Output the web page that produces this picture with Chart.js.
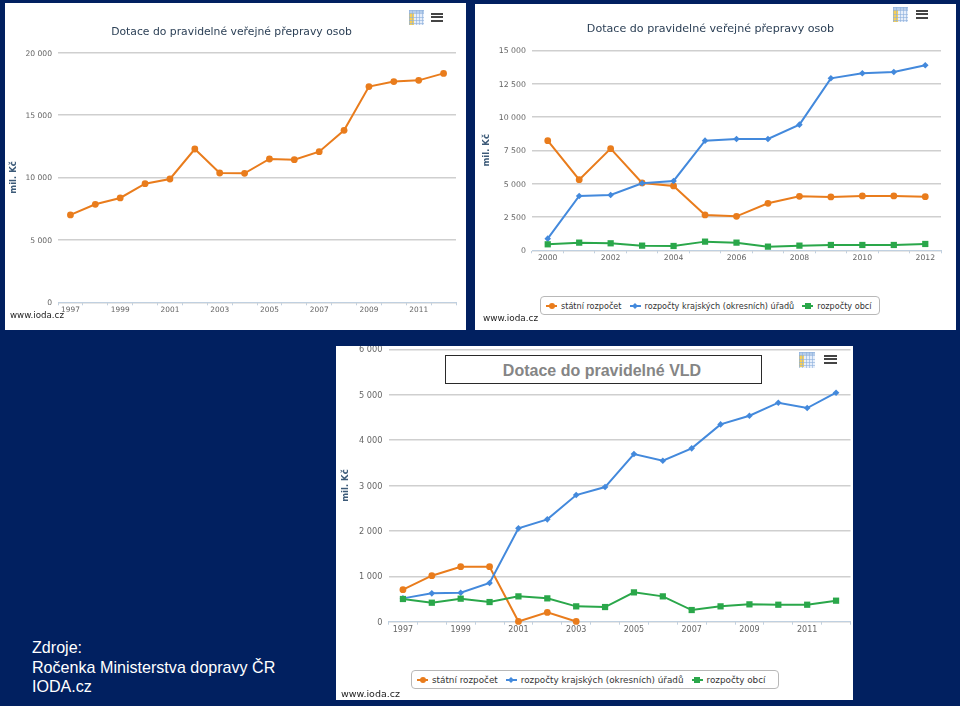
<!DOCTYPE html>
<html lang="cs">
<head>
<meta charset="utf-8">
<title>Dotace</title>
<script src="https://cdn.jsdelivr.net/npm/chart.js@4"></script>
<style>
    html, body { margin: 0; padding: 0; width: 960px; height: 706px; overflow: hidden; background: #012060; }
    .panel { position: absolute; background: #fff; filter: blur(.35px); }
    .panel canvas { position: absolute; left: 0; top: 0; }
    .web { position: absolute; font-family: "DejaVu Sans", sans-serif; color: #222; }
    .grid-icon { position: absolute; width: 15px; height: 15px; background-color: #e6eefa;
        background-image: repeating-linear-gradient(90deg, rgba(140,175,220,.6) 0 1px, transparent 1px 3.3px), repeating-linear-gradient(rgba(140,175,220,.6) 0 1px, transparent 1px 3.3px), linear-gradient(#f7cf55 0 0), linear-gradient(#b5cdea 0 0);
        background-size: auto, auto, 5px 12px, 100% 3px; background-position: 0 0, 0 0, 0 3px, 0 0; background-repeat: repeat, repeat, no-repeat, no-repeat; }
    .menu-icon { position: absolute; width: 12px; height: 9px;
        background: repeating-linear-gradient(#444 0 2px, #fff 2px 3.5px); }
    .legend { position: absolute; box-sizing: border-box; border: 1px solid #b8b8b8; border-radius: 4px; background: #fff;
        display: flex; align-items: center; gap: 8px; padding-left: 5px;
        font-family: "DejaVu Sans", sans-serif; color: #333; white-space: nowrap; }
    .legend span.item { display: inline-flex; align-items: center; }
    .swatch { position: relative; display: inline-block; width: 11px; height: 2px; margin-right: 4px; }
    .swatch i { position: absolute; left: 2.5px; top: -2px; width: 6px; height: 6px; }
    .box-title { position: absolute; left: 445px; top: 355px; width: 317px; height: 29px; box-sizing: border-box; background: #fff;
        border: 1.5px solid #2a2a2a; padding-right: 3px; text-align: center; font: bold 16px/29px "Liberation Sans", sans-serif; color: #858585; }
    .sources { position: absolute; left: 32px; top: 638px; font: 16.1px/19.7px "Liberation Sans", sans-serif; color: #fff; }
</style>
</head>
<body>
<div class="panel" style="left:5px;top:3px;width:461px;height:327px"><canvas id="chartTotal"></canvas>
    <div class="grid-icon" style="left:404px;top:7px"></div><div class="menu-icon" style="left:426px;top:10px"></div>
    <div class="web" style="left:5px;top:307px;font-size:8.7px">www.ioda.cz</div></div>

<div class="panel" style="left:475px;top:4px;width:481px;height:326px"><canvas id="chartBreakdown"></canvas>
    <div class="grid-icon" style="left:418px;top:3px"></div><div class="menu-icon" style="left:441px;top:6px"></div>
    <div class="legend" id="legendBreakdown" style="left:65px;top:292px;width:340px;height:19px;font-size:8.1px"></div>
    <div class="web" style="left:8px;top:309px;font-size:8.9px">www.ioda.cz</div></div>

<div class="panel" style="left:336px;top:346px;width:517px;height:354px"><canvas id="chartVld"></canvas>
    <div class="grid-icon" style="left:463px;top:6px;width:16px;height:16px"></div><div class="menu-icon" style="left:488px;top:9px;width:13px;height:10px"></div>
    <div class="legend" id="legendVld" style="left:75px;top:324px;width:368px;height:19px;font-size:8.8px"></div>
    <div class="web" style="left:5px;top:342px;font-size:9.5px">www.ioda.cz</div></div>

<div class="box-title">Dotace do pravidelné VLD</div>
<div class="sources">Zdroje:<br>Ročenka Ministerstva dopravy ČR<br>IODA.cz</div>

<script>
const yearsTotal = ['1997','1998','1999','2000','2001','2002','2003','2004','2005','2006','2007','2008','2009','2010','2011','2012'];
const valuesTotal = [7000,7850,8360,9500,9880,12280,10360,10330,11480,11430,12070,13780,17280,17680,17780,18340];
const ticksTotal = [0,5000,10000,15000,20000];

const yearsBreakdown = ['2000','2001','2002','2003','2004','2005','2006','2007','2008','2009','2010','2011','2012'];
const stateBreakdown = [8225,5300,7625,5050,4825,2650,2550,3525,4050,4000,4075,4075,4025];
const regionBreakdown = [875,4075,4150,5025,5200,8225,8350,8350,9425,12900,13275,13375,13875];
const cityBreakdown = [450,575,525,350,325,650,575,275,350,400,400,400,475];
const ticksBreakdown = [0,2500,5000,7500,10000,12500,15000];

const yearsVld = yearsTotal;
const stateVld = [705,1013,1211,1211,5,205,5,null,null,null,null,null,null,null,null,null];
const regionVld = [514,624,639,852,2056,2254,2790,2966,3693,3546,3818,4346,4537,4824,4706,5044];
const cityVld = [500,418,507,433,558,514,338,323,646,558,257,338,382,374,374,463];
const ticksVld = [0,1000,2000,3000,4000,5000,6000];

const titleText = 'Dotace do pravidelné veřejné přepravy osob';
const seriesNames = ['státní rozpočet', 'rozpočty krajských (okresních) úřadů', 'rozpočty obcí'];
const orange = '#e97c1c', blue = '#4389dc', green = '#2aa74a';

function fmt(v) {
    return String(v).replace(/\B(?=(\d{3})+$)/g, ' ');
}

function series(name, values, color, shape, radius, order) {
    return {
        label: name, data: values, borderColor: color, backgroundColor: color, borderWidth: 2,
        pointStyle: shape, pointRadius: radius, pointBorderWidth: 0, pointHoverRadius: radius,
        order: order, clip: false, spanGaps: false, tension: 0
    };
}

function drawChart(id, labels, datasets, ticks, o) {
    const canvas = document.getElementById(id);
    canvas.width = canvas.parentNode.clientWidth;
    canvas.height = canvas.parentNode.clientHeight;
    return new Chart(canvas, {
        type: 'line',
        data: { labels: labels, datasets: datasets },
        options: {
            responsive: false,
            animation: false,
            layout: { autoPadding: false, padding: { left: o.left, right: o.right, top: o.top, bottom: 0 } },
            plugins: {
                legend: { display: false },
                tooltip: { enabled: false },
                title: {
                    display: !!o.title, text: o.title, color: '#2b3f55',
                    font: { family: 'DejaVu Sans', size: o.titleSize, weight: 'normal' },
                    padding: o.titlePad
                }
            },
            scales: {
                x: {
                    offset: true,
                    border: { color: '#c0d0e0' },
                    grid: { offset: true, drawOnChartArea: false, color: '#c0d0e0', tickLength: 3 },
                    ticks: {
                        autoSkip: false, maxRotation: 0, padding: 0, color: '#666',
                        font: { family: 'DejaVu Sans', size: o.xSize },
                        callback: function (v, i) { return i % 2 === 0 ? this.getLabelForValue(v) : ''; }
                    },
                    afterFit: function (s) {
                        s.height = o.xHeight;
                        s.paddingLeft = s.paddingRight = 0;
                    }
                },
                y: {
                    min: ticks[0], max: ticks[ticks.length - 1],
                    border: { display: false },
                    grid: { color: '#cfcfcf', lineWidth: 1.5, drawTicks: false },
                    afterBuildTicks: function (s) { s.ticks = ticks.map(v => ({ value: v })); },
                    ticks: {
                        padding: 6, color: '#666', labelOffset: 1,
                        font: { family: 'DejaVu Sans', size: o.ySize },
                        callback: function (v) { return fmt(v); }
                    },
                    title: {
                        display: true, text: 'mil. Kč', color: '#3c5a78',
                        font: { family: 'DejaVu Sans', size: 8.5, weight: 'bold' },
                        padding: { top: o.yTitleGap, bottom: 0 }
                    },
                    afterFit: function (s) {
                        s.width = o.yWidth;
                        s.paddingTop = s.paddingBottom = 0;
                    }
                }
            }
        }
    });
}

function drawLegend(id, chart) {
    const holder = document.getElementById(id);
    chart.data.datasets.forEach(function (ds) {
        const item = document.createElement('span');
        item.className = 'item';
        const line = document.createElement('span');
        line.className = 'swatch';
        line.style.background = ds.borderColor;
        const mark = document.createElement('i');
        mark.style.background = ds.borderColor;
        if (ds.pointStyle === 'circle') mark.style.borderRadius = '50%';
        if (ds.pointStyle === 'rectRot') mark.style.transform = 'rotate(45deg) scale(.7)';
        line.appendChild(mark);
        item.appendChild(line);
        item.appendChild(document.createTextNode(ds.label));
        holder.appendChild(item);
    });
}

drawChart('chartTotal', yearsTotal, [
    series('Dotace', valuesTotal, orange, 'circle', 3.4, 1)
], ticksTotal, { left: 2, right: 10, top: 0, yWidth: 51, xHeight: 27.7, title: titleText, titleSize: 10.8, titlePad: { top: 22.5, bottom: 14.2 }, xSize: 7.4, ySize: 7.6, yTitleGap: 1.5 });

const breakdown = drawChart('chartBreakdown', yearsBreakdown, [
    series(seriesNames[0], stateBreakdown, orange, 'circle', 3.4, 3),
    series(seriesNames[1], regionBreakdown, blue, 'rectRot', 3.3, 2),
    series(seriesNames[2], cityBreakdown, green, 'rect', 4.4, 1)
], ticksBreakdown, { left: 5, right: 15, top: 0, yWidth: 52, xHeight: 79.7, title: titleText, titleSize: 11.1, titlePad: { top: 18.5, bottom: 14.5 }, xSize: 7.7, ySize: 7.8, yTitleGap: 1.5 });
drawLegend('legendBreakdown', breakdown);

const vld = drawChart('chartVld', yearsVld, [
    series(seriesNames[0], stateVld, orange, 'circle', 3.4, 3),
    series(seriesNames[1], regionVld, blue, 'rectRot', 3.3, 2),
    series(seriesNames[2], cityVld, green, 'rect', 4.4, 1)
], ticksVld, { left: 3, right: 2.5, top: 3.3, yWidth: 49.5, xHeight: 78.3, title: '', titlePad: 0, xSize: 8, ySize: 8.2, yTitleGap: 1.5 });
drawLegend('legendVld', vld);
</script>
</body>
</html>
